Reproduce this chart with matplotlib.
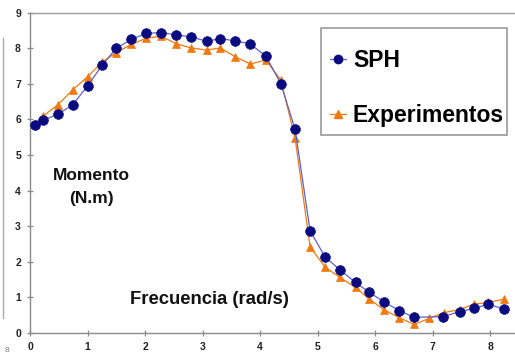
import matplotlib
matplotlib.use("Agg")
import matplotlib.pyplot as plt
from matplotlib.lines import Line2D
from matplotlib.patches import Rectangle

plt.rcParams['font.family'] = ['Liberation Sans', 'DejaVu Sans']

sph_x = [0.09, 0.23, 0.49, 0.74, 1.00, 1.26, 1.50, 1.76, 2.02, 2.28, 2.54, 2.80,
         3.07, 3.31, 3.57, 3.83, 4.10, 4.36, 4.61, 4.87, 5.13, 5.39, 5.66, 5.90,
         6.16, 6.42, 6.68, 7.18, 7.47, 7.72, 7.97, 8.24]
sph_y = [5.84, 5.98, 6.15, 6.41, 6.94, 7.54, 8.00, 8.25, 8.42, 8.44, 8.38, 8.32,
         8.20, 8.27, 8.21, 8.12, 7.78, 7.01, 5.72, 2.87, 2.14, 1.77, 1.42, 1.14,
         0.87, 0.63, 0.44, 0.46, 0.60, 0.69, 0.81, 0.67]

exp_x = [0.09, 0.23, 0.49, 0.74, 1.00, 1.26, 1.50, 1.76, 2.02, 2.28, 2.54, 2.80,
         3.07, 3.31, 3.57, 3.83, 4.10, 4.36, 4.61, 4.87, 5.13, 5.39, 5.66, 5.90,
         6.16, 6.42, 6.68, 6.94, 7.19, 7.47, 7.72, 7.97, 8.24]
exp_y = [5.88, 6.10, 6.42, 6.83, 7.20, 7.62, 7.88, 8.11, 8.28, 8.34, 8.13, 8.01,
         7.95, 8.01, 7.76, 7.56, 7.67, 7.11, 5.47, 2.42, 1.85, 1.56, 1.28, 0.95,
         0.65, 0.43, 0.24, 0.41, 0.57, 0.66, 0.81, 0.86, 0.95]

x_ticks = [0, 1, 2, 3, 4, 5, 6, 7, 8]
y_ticks = [0, 1, 2, 3, 4, 5, 6, 7, 8, 9]

W, H = 515, 360
fig = plt.figure(figsize=(5.15, 3.6), dpi=100)
ax = fig.add_axes([30/W, 27/H, 486/W, 320.3/H])

navy = '#0b0b80'
orange = '#f07a10'
sph_line = '#6060d0'

ax.plot(exp_x, exp_y, color=orange, lw=0.9, marker='^', ms=5.8, mew=0.5,
        mfc=orange, mec=orange, label='Experimentos', zorder=3)
ax.plot(sph_x, sph_y, color=sph_line, lw=0.9, marker='o', ms=7.0, mew=0.5,
        mfc=navy, mec=navy, label='SPH', zorder=4)

ax.set_xlim(0, 8.45)
ax.set_ylim(0, 9)
ax.set_xticks(x_ticks)
ax.set_yticks(y_ticks)

for s in ['right', 'top']:
    ax.spines[s].set_visible(False)
for s in ['left', 'bottom']:
    ax.spines[s].set_color('#8a8a8a')
    ax.spines[s].set_linewidth(1.0)
ax.axhline(9, color='#9a9a9a', lw=1.0, clip_on=False)

ax.tick_params(direction='inout', length=5, width=0.9, color='#8a8a8a',
               labelsize=7.5, labelcolor='#222222', pad=4)
for lab in ax.get_xticklabels() + ax.get_yticklabels():
    lab.set_fontweight('bold')

fig.text(91/W, 1 - 175/H, 'Momento', ha='center', va='center',
         fontsize=12.5, fontweight='bold', color='#111111')
fig.text(91/W, 1 - 198/H, '(N.m)', ha='center', va='center',
         fontsize=12.5, fontweight='bold', color='#111111')
fig.text(209/W, 1 - 299/H, 'Frecuencia (rad/s)', ha='center', va='center',
         fontsize=13.3, fontweight='bold', color='#111111')

# legend frame
fig.add_artist(Rectangle((321/W, 1 - 135/H), (507 - 321)/W, (135 - 28)/H,
                         transform=fig.transFigure, facecolor='white',
                         edgecolor='#9a9a9a', lw=1.2, zorder=5))

handles = [Line2D([], [], color=sph_line, lw=0.9, marker='o', ms=6.0, mfc=navy, mec=navy),
           Line2D([], [], color=orange, lw=0.9, marker='^', ms=5.5, mfc=orange, mec=orange)]
leg = fig.legend(handles, ['SPH', 'Experimentos'], loc='upper left',
                 bbox_to_anchor=(330/W, 1 - 49/H), frameon=False,
                 prop={'weight': 'bold', 'size': 16.5}, handlelength=0.7,
                 handletextpad=0.3, labelspacing=1.4, borderpad=0,
                 borderaxespad=0)
leg.set_zorder(6)

# cropped fragments at left edge
fig.add_artist(Line2D([3/W, 3/W], [1 - 318/H, 1 - 38/H], color='#aaaaaa', lw=1.0))
fig.text(5/W, 1 - 350/H, '8', fontsize=6, color='#777777', ha='left', va='center')

fig.savefig('out.png', dpi=100)
